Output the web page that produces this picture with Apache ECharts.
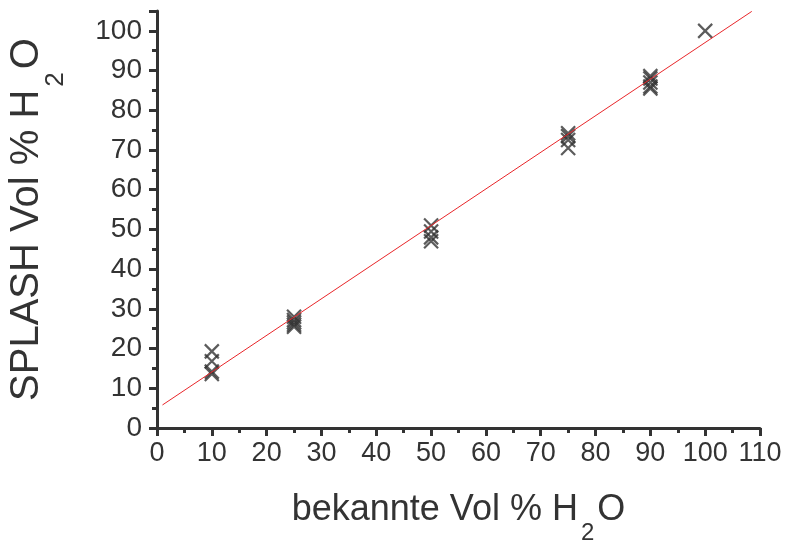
<!DOCTYPE html>
<html><head><meta charset="utf-8">
<script src="https://cdn.jsdelivr.net/npm/echarts@6/dist/echarts.min.js"></script>
<style>html,body{margin:0;padding:0;background:#fff}#c{width:789px;height:547px}</style>
</head><body><div id="c"></div>
<script>
const xKnown = [10,10,10,10, 25,25,25,25,25, 50,50,50,50, 75,75,75,75, 90,90,90,90,90, 100];
const ySplash = [19.3,16.8,14.2,13.6, 28,27.2,26.6,26,25.5, 51,49.5,48,47, 74.2,73.5,72.5,70.5, 88.6,88,87,86,85.5, 100];
const fitLine = [[1,5.8],[108.5,104.9]];
const xTicks = [0,10,20,30,40,50,60,70,80,90,100,110];
const yTicks = [0,10,20,30,40,50,60,70,80,90,100];

const pts = xKnown.map((x,i)=>[x, ySplash[i]]);
const chart = echarts.init(document.getElementById('c'));
const axColor = '#333333';
const font = 'Liberation Sans, Arial, sans-serif';
chart.setOption({
  animation:false,
  grid:{left:157, right:29, top:11, bottom:119, containLabel:false, outerBoundsMode:'none'},
  xAxis:{
    type:'value', min:0, max:110, interval:10,
    axisLine:{lineStyle:{color:axColor,width:3}},
    axisTick:{show:true, inside:false, length:8, lineStyle:{color:axColor,width:3}},
    minorTick:{show:true, splitNumber:2, length:5, lineStyle:{color:axColor,width:3}},
    splitLine:{show:false},
    axisLabel:{color:'#333', fontSize:27, fontFamily:font, margin:12,
      formatter:v=>xTicks.includes(v)?String(v):''},
    name:'{a|bekannte Vol % H}{s|2}{a|O}',
    nameLocation:'middle', nameGap:64,
    nameTextStyle:{rich:{
      a:{fontSize:36, fontFamily:font, color:'#333', verticalAlign:'top'},
      s:{fontSize:24, fontFamily:font, color:'#333', padding:[29,3,0,3], verticalAlign:'top'}
    }}
  },
  yAxis:{
    type:'value', min:0, max:105, interval:10,
    axisLine:{lineStyle:{color:axColor,width:3}},
    axisTick:{show:true, inside:false, length:8, lineStyle:{color:axColor,width:3}},
    minorTick:{show:true, splitNumber:2, length:5, lineStyle:{color:axColor,width:3}},
    splitLine:{show:false},
    axisLabel:{color:'#333', fontSize:28, fontFamily:font, margin:15, showMaxLabel:false,
      formatter:v=>yTicks.includes(v)?String(v):''},
    name:'{a|SPLASH Vol % H}{s|2}{a|O}',
    nameLocation:'middle', nameGap:88, nameRotate:90,
    nameTextStyle:{rich:{
      a:{fontSize:40, fontFamily:font, color:'#333', verticalAlign:'top'},
      s:{fontSize:26, fontFamily:font, color:'#333', padding:[36,3,0,3], verticalAlign:'top'}
    }}
  },
  series:[
    {type:'line', data:fitLine, symbol:'none', lineStyle:{color:'#e8262a', width:1}, z:3},
    {type:'scatter', data:pts, symbol:'path://M0,0L10,10M10,0L0,10', symbolSize:14,
      itemStyle:{color:'rgba(0,0,0,0)', borderColor:'#333', borderWidth:2.2}, z:2}
  ]
});
</script></body></html>
